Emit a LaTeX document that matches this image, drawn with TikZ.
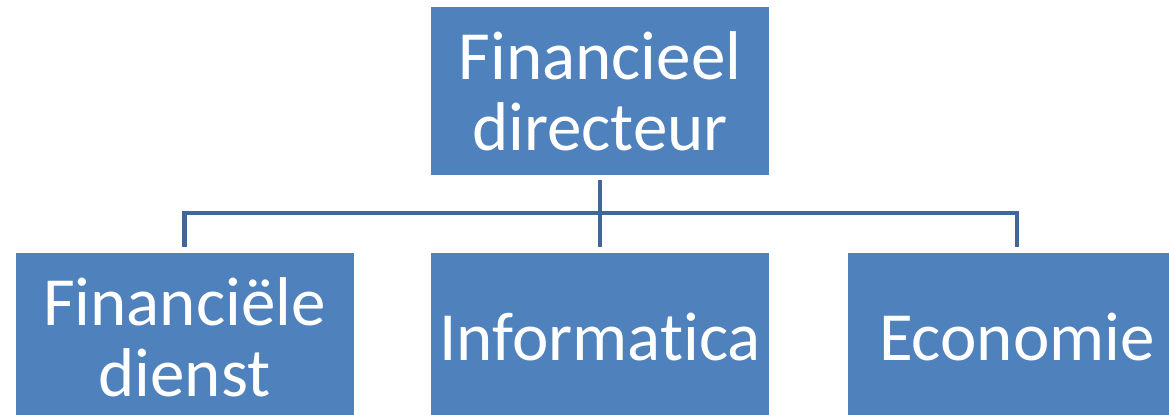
\documentclass[tikz,border=0pt]{standalone}
\usepackage{fontspec}
\setmainfont[Ligatures=NoCommon]{Carlito}
\usetikzlibrary{positioning}
\definecolor{boxblue}{HTML}{4F81BD}
\definecolor{lineblue}{RGB}{65,103,150}
\tikzstyle{dept}=[rectangle, fill=boxblue, text=white, align=center,
    inner sep=0pt, minimum width=169pt, minimum height=84pt,
    font=\fontsize{34.5pt}{35.5pt}\selectfont]
\tikzstyle{link}=[draw=lineblue, line width=2.4pt]
\newcommand{\deptbox}{\node[dept]}

\begin{document}
\begin{tikzpicture}[x=0.5pt, y=-0.5pt]
\clip (0,0) rectangle (1169,415);
\deptbox (fd)  at (600,91)   {Financieel\\directeur};
\deptbox (fin) at (184.5,337) {Financiële\\dienst};
\deptbox (inf) at (600,337)  {Informatica};
\deptbox (eco) at (1017,337) {Economie};
\coordinate (bus) at (600,213);
\path[link]
(fd.south) [shorten <=2.5pt] -- (bus)
;
\path[link]
(fin.north) [shorten <=3pt, shorten >=3pt] |- (bus) -| (eco.north)
;
\path[link]
(inf.north) [shorten <=3pt] -- (bus)
;
\end{tikzpicture}
\end{document}
